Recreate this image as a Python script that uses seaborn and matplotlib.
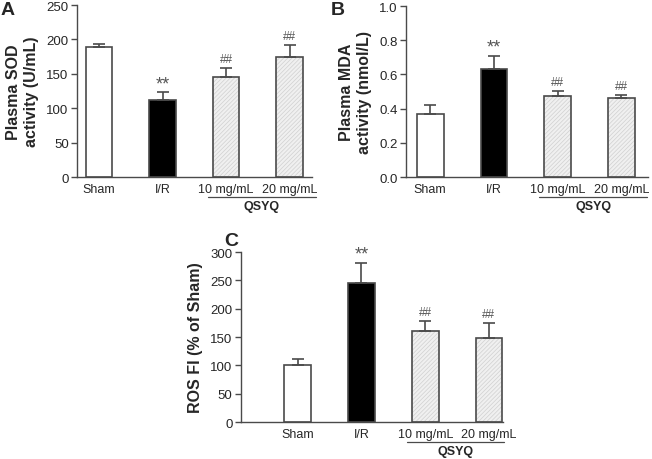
"""
Plasma SOD / MDA and ROS bar panels (A, B, C)
"""
import numpy as np
import pandas as pd
import matplotlib
matplotlib.use("Agg")
import matplotlib.pyplot as plt
from matplotlib.patches import Rectangle
import seaborn as sns

# Dados
groups = ["Sham", "I/R", "10 mg/mL", "20 mg/mL"]
sod_mean = [189, 112, 146, 175]
sod_err = [4, 11, 13, 17]
mda_mean = [0.37, 0.63, 0.475, 0.46]
mda_err = [0.05, 0.08, 0.03, 0.02]
ros_mean = [100, 246, 161, 148]
ros_err = [12, 35, 17, 27]
marks = ["", "**", "##", "##"]
group_label = "QSYQ"

sns.set_theme(style="ticks")
plt.rcParams["font.family"] = ["Liberation Sans", "DejaVu Sans"]
plt.rcParams["hatch.linewidth"] = 0.5

EDGE = "#4a4a4a"
fill_colors = ["white", "black", "#f0f0f0", "#f0f0f0"]


def draw_panel(ax, means, errs, ylabel, yticks, ytick_fmt, xlim, qline_end):
    df = pd.DataFrame({"group": groups, "value": means})
    sns.barplot(data=df, x="group", y="value", hue="group", palette=fill_colors,
                legend=False, errorbar=None, width=0.42, ax=ax,
                edgecolor=EDGE, linewidth=1.2, saturation=1)

    # barras QSYQ hachuradas com contorno escuro por cima
    for patch in ax.patches[2:4]:
        patch.set_hatch("////////")
        patch.set_edgecolor("#d0d0d0")
        patch.set_linewidth(0)
        ax.add_patch(Rectangle(patch.get_xy(), patch.get_width(), patch.get_height(),
                               fill=False, edgecolor=EDGE, linewidth=1.2, zorder=3))

    x = np.arange(len(groups))
    ax.errorbar(x, means, yerr=[np.zeros(len(errs)), errs], fmt="none",
                ecolor=EDGE, elinewidth=1.2, capsize=4.3, capthick=1.2, zorder=1)

    for xi, m, e, mk in zip(x, means, errs, marks):
        if not mk:
            continue
        size = 13 if mk == "**" else 8.5
        off = 0 if mk == "**" else 2
        ax.annotate(mk, (xi, m + e), xytext=(0, off), textcoords="offset points",
                    ha="center", va="bottom", fontsize=size, color="#555555")

    ax.set_ylim(yticks[0], yticks[-1])
    ax.set_yticks(yticks)
    ax.set_yticklabels([ytick_fmt.format(t) for t in yticks], fontsize=9.5)
    ax.set_xlim(*xlim)
    ax.set_xlabel("")
    ax.set_ylabel(ylabel, fontsize=11.5, fontweight="bold", labelpad=5, linespacing=1.3)
    ax.tick_params(axis="x", length=0, labelsize=9, pad=4)
    ax.tick_params(axis="y", length=4, width=1, color=EDGE, pad=2)
    sns.despine(ax=ax)
    for side in ["left", "bottom"]:
        ax.spines[side].set_color(EDGE)
        ax.spines[side].set_linewidth(1.0)

    trans = ax.get_xaxis_transform()
    ax.plot([1.71, qline_end], [-0.116, -0.116], color=EDGE, lw=0.9,
            transform=trans, clip_on=False)
    ax.text((1.71 + qline_end) / 2, -0.17, group_label, transform=trans,
            ha="center", va="center", fontsize=9, fontweight="bold")
    return ax


fig = plt.figure(figsize=(6.52, 4.6), dpi=100)
ax_a = fig.add_axes([0.1181, 0.6130, 0.3604, 0.3739])
ax_b = fig.add_axes([0.6227, 0.6130, 0.3712, 0.3717])
ax_c = fig.add_axes([0.3696, 0.0804, 0.4018, 0.3696])

draw_panel(ax_a, sod_mean, sod_err, "Plasma SOD\nactivity (U/mL)",
           [0, 50, 100, 150, 200, 250], "{:d}", (-0.345, 3.35), 3.41)
draw_panel(ax_b, mda_mean, mda_err, "Plasma MDA\nactivity (nmol/L)",
           [0.0, 0.2, 0.4, 0.6, 0.8, 1.0], "{:.1f}", (-0.38, 3.42), 3.41)
draw_panel(ax_c, ros_mean, ros_err, "ROS FI (% of Sham)",
           [0, 50, 100, 150, 200, 250, 300], "{:d}", (-0.89, 3.22), 3.23)

# letras dos painéis
fig.text(1 / 652, 1 - 15 / 460, "A", fontsize=14, fontweight="bold")
fig.text(331 / 652, 1 - 15 / 460, "B", fontsize=14, fontweight="bold")
fig.text(224 / 652, 1 - 246 / 460, "C", fontsize=14, fontweight="bold")

fig.savefig("out.png", dpi=100)
